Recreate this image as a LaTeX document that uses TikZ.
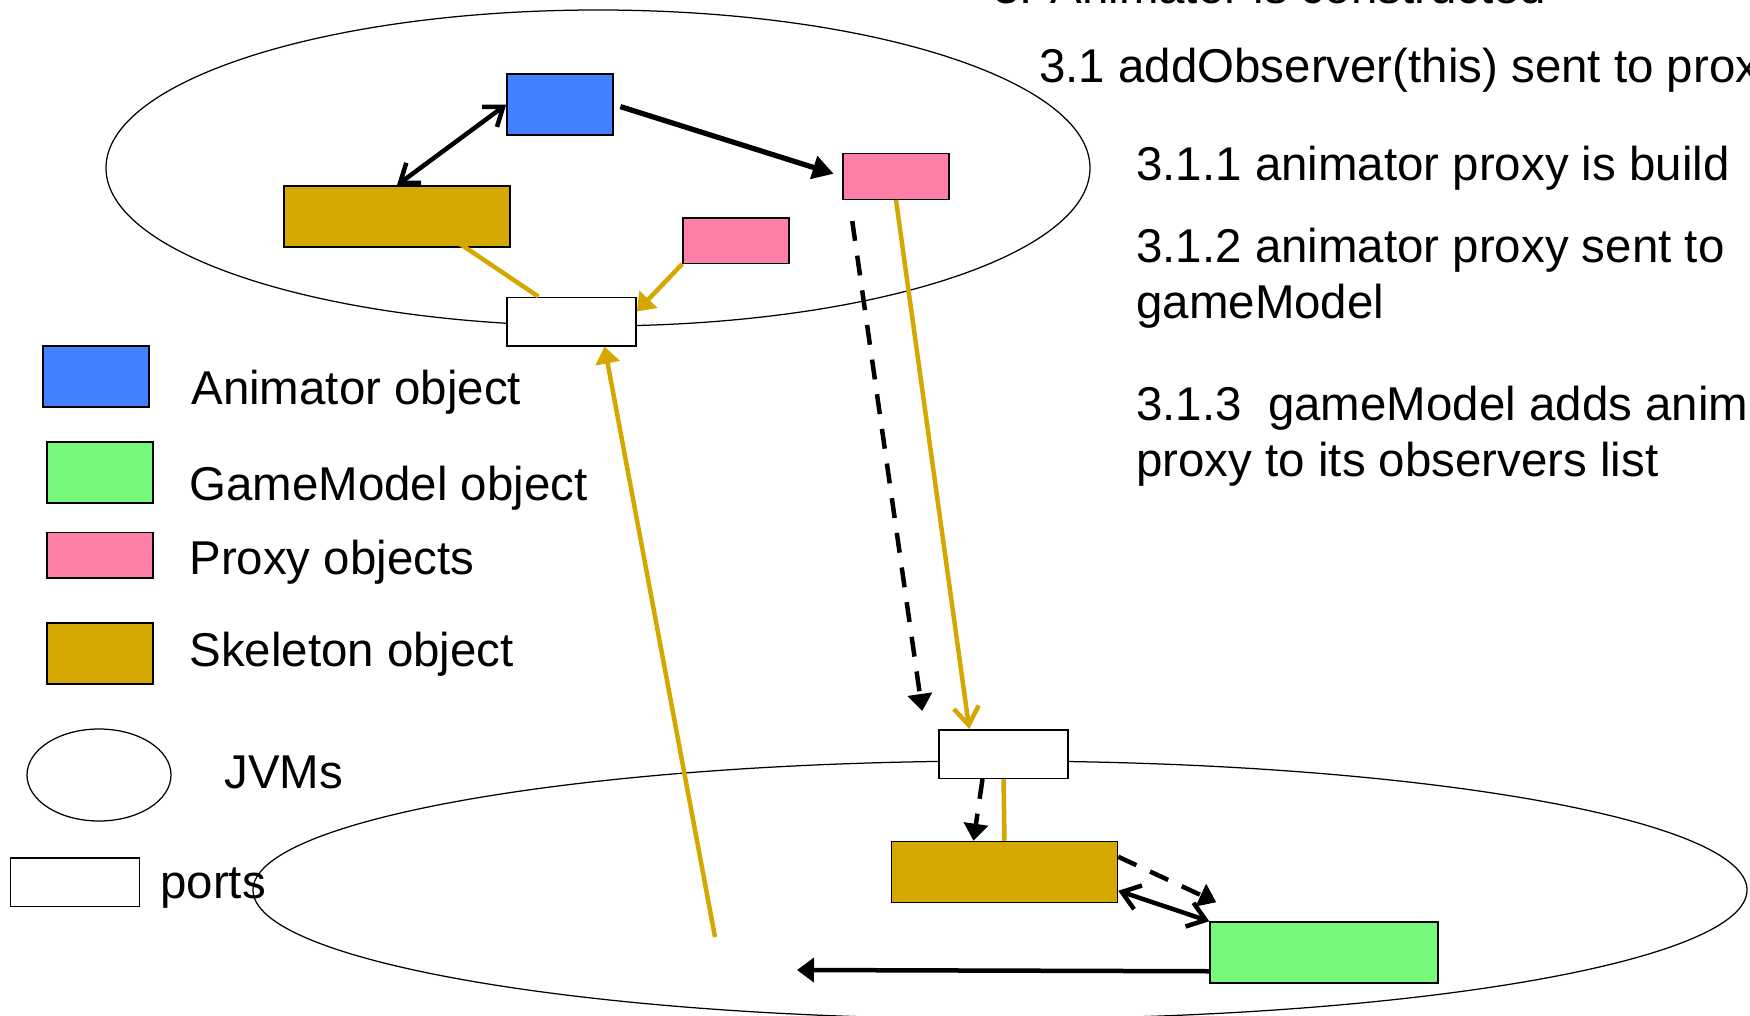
\documentclass[tikz,border=0pt]{standalone}
\usepackage{fontspec}
\setmainfont{Liberation Sans}
\usetikzlibrary{arrows.meta,shapes.geometric,positioning,calc}

\definecolor{animblue}{RGB}{66,129,255}
\definecolor{gmgreen}{RGB}{116,249,122}
\definecolor{proxypink}{RGB}{255,128,166}
\definecolor{skelgold}{RGB}{212,168,0}

\begin{document}
\begin{tikzpicture}[x=0.2mm,y=-0.2mm,
          obj/.style={draw,line width=0.3mm,inner sep=0},
          anim/.style={obj,fill=animblue,minimum width=21.2mm,minimum height=12.2mm},
          gm/.style={obj,fill=gmgreen,minimum width=45.6mm,minimum height=12.2mm},
          proxy/.style={obj,fill=proxypink,minimum width=21.2mm,minimum height=9.1mm},
          skel/.style={obj,fill=skelgold,minimum width=45.2mm,minimum height=12.2mm},
          port/.style={obj,fill=white,minimum width=25.8mm,minimum height=9.7mm},
          jvm/.style={ellipse,draw,line width=0.25mm,inner sep=0},
          txt/.style={font=\fontsize{27}{31.6}\selectfont,inner sep=0,anchor=base west,align=left},
          link/.style={line width=0.9mm},
          gold/.style={draw=skelgold,color=skelgold},
          tri/.style={->,>={Triangle[length=3.4mm,width=4.8mm]}},
          barbto/.style={->,>={Straight Barb[length=3.6mm,width=5mm]}},
          dbl/.style={<->,>={Straight Barb[length=3.4mm,width=5mm]}},
          dashline/.style={dash pattern=on 4mm off 3mm},
        ]
        \useasboundingbox (0,0) rectangle (1750,1016);
        \clip (0,0) rectangle (1750,1016);

        % the two JVMs
        \node[jvm,minimum width=196.8mm,minimum height=63.2mm] (jvm1) at (598,168) {};
        \node[jvm,minimum width=298.8mm,minimum height=51.6mm] (jvm2) at (1000,890) {};

        % objects of the first JVM
        \node[anim] (anim) at (560,104.5) {};
        \node[skel] (skel1) at (397,216.5) {};
        \node[proxy] (prox1) at (896,176.5) {};
        \node[proxy] (prox2) at (736,240.5) {};
        \node[port] (port1) at (571.5,321.5) {};

        % objects of the second JVM
        \node[port] (port2) at (1003.5,754) {};
        \node[skel] (skel2) at (1004.5,872) {};
        \node[gm] (gm) at (1324,952.5) {};

        \coordinate (g0) at (715,937);
        \coordinate (g1) at (797,970);

        \draw[link,dbl] (skel1.north) -- (anim.west);
        \draw[link,tri,line width=1.05mm,shorten <=1.4mm,shorten >=1.8mm,>={Triangle[length=4.2mm,width=4.6mm]}] (anim.east) -- (prox1.west);
        \draw[link,gold] ($(skel1.south)+(51,-12)$) -- ($(port1.north west)+(32,0)$);
        \draw[link,gold,tri] (prox2.south west) -- ($(port1.north east)!0.3!(port1.south east)$);

        \draw[link,dashline,tri] ($(prox1.south west)+(10,21)$) -- ($(port2.north west)+(-16,-18)$);
        \draw[link,gold,barbto] (prox1.south) -- ($(port2.north west)+(31,0)$);
        \draw[link,gold,tri] (g0) -- ($(port1.south)+(33,0)$);

        \draw[link,dashline,tri] ($(port2.south)+(-21,0)$) -- ($(skel2.north)+(-31,0)$);
        \draw[link,gold] (port2.south) -- (skel2.north);
        \draw[link,dashline,tri] ($(skel2.north east)+(0,16)$) -- ($(gm.north west)+(7,-19)$);
        \draw[link,dbl] ($(skel2.north east)!0.8!(skel2.south east)$) -- (gm.north west);
        \draw[link,tri] ($(gm.north west)!0.8!(gm.south west)$) -- (g1);

        % legend
        \node[anim] (keyanim) at (96,376.5) {};
        \node[gm,minimum width=21.2mm] (keygm) at (100,472.5) {};
        \node[proxy] (keyprox) at (100,555) {};
        \node[skel,minimum width=21.2mm] (keyskel) at (100,653.5) {};
        \node[jvm,minimum width=28.8mm,minimum height=18.4mm] (keyjvm) at (99,775) {};
        \node[port] (keyport) at (75,882) {};

        \node[txt] (tanim) at (191,404) {Animator object};
        \node[txt] (tgm) at (189,500) {GameModel object};
        \node[txt] (tprox) at (189,574) {Proxy objects};
        \node[txt] (tskel) at (189,666) {Skeleton object};
        \node[txt] (tjvm) at (224,788) {JVMs};
        \node[txt] (tport) at (160,898) {ports};

        % steps (base of a two-line text is its last line)
        \node[txt] (s3) at (993,4) {3. Animator is constructed};
        \node[txt] (s31) at (1039,83) {3.1 addObserver(this) sent to proxy};
        \node[txt] (s311) at (1136,180) {3.1.1 animator proxy is build};
        \node[txt] (s312) at (1136,318) {3.1.2 animator proxy sent to\\gameModel};
        \node[txt] (s313) at (1136,476) {3.1.3\ \ gameModel adds animator\\proxy to its observers list};
      \end{tikzpicture}
\end{document}
